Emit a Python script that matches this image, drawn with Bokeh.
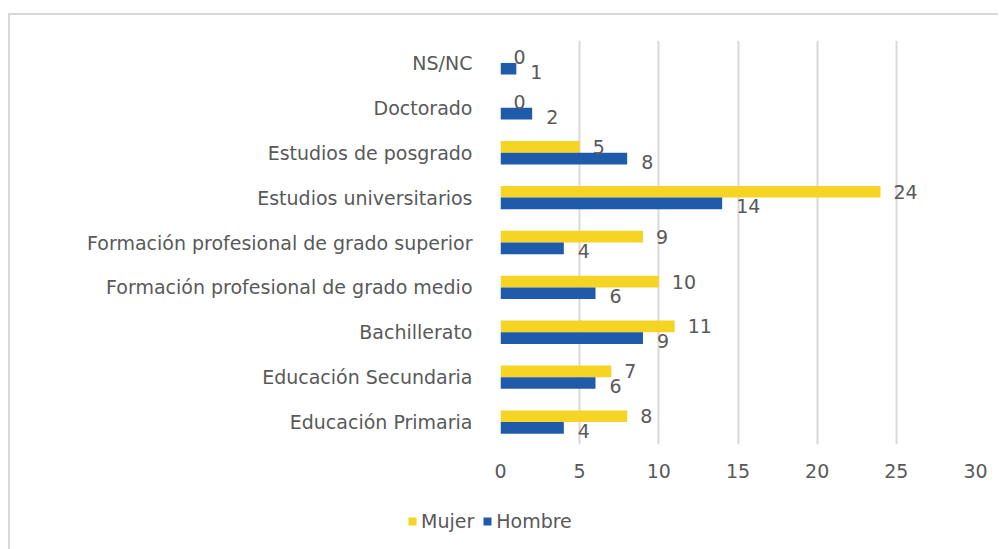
from bokeh.plotting import figure
from bokeh.models import ColumnDataSource, Legend, LegendItem, FactorRange, Range1d, FixedTicker
from bokeh.transform import dodge
from bokeh.embed import file_html
from bokeh.resources import INLINE
from bokeh.core.properties import value

categories = ["NS/NC", "Doctorado", "Estudios de posgrado", "Estudios universitarios",
              "Formación profesional de grado superior", "Formación profesional de grado medio",
              "Bachillerato", "Educación Secundaria", "Educación Primaria"]
mujer = [0, 0, 5, 24, 9, 10, 11, 7, 8]
hombre = [1, 2, 8, 14, 4, 6, 9, 6, 4]
x_ticks = [0, 5, 10, 15, 20, 25, 30]
series_names = ["Mujer", "Hombre"]

FONT = "DejaVu Sans"
TXT = "#595959"
YEL = "#F5D423"
BLU = "#1F5BAA"
BORDER = "2px solid #d9d9d9"

src = ColumnDataSource(dict(cat=categories, mujer=mujer, hombre=hombre,
                            mujer_s=[str(v) for v in mujer], hombre_s=[str(v) for v in hombre]))

p = figure(width=990, height=477, output_backend="svg", toolbar_location=None,
           y_range=FactorRange(factors=list(reversed(categories))),
           x_range=Range1d(0, 30),
           min_border_left=490, min_border_right=25, min_border_top=25, min_border_bottom=48)
p.margin = (13, 0, 0, 8)
p.styles = {"border-top": BORDER, "border-left": BORDER}

bh = 0.26
r_m = p.hbar(y=dodge('cat', 0.13, range=p.y_range), right='mujer', height=bh, left=0,
             source=src, fill_color=YEL, line_color=None)
r_h = p.hbar(y=dodge('cat', -0.13, range=p.y_range), right='hombre', height=bh, left=0,
             source=src, fill_color=BLU, line_color=None)

p.text(x='mujer', y=dodge('cat', 0.13, range=p.y_range), text='mujer_s', source=src,
       x_offset=13, y_offset=0, text_baseline='middle', text_align='left',
       text_font=value(FONT), text_font_size='19px', text_color=TXT)
p.text(x='hombre', y=dodge('cat', -0.13, range=p.y_range), text='hombre_s', source=src,
       x_offset=14, y_offset=3, text_baseline='middle', text_align='left',
       text_font=value(FONT), text_font_size='19px', text_color=TXT)

p.outline_line_color = None
p.ygrid.grid_line_color = None
p.xgrid.grid_line_color = "#d9d9d9"
p.xgrid.grid_line_width = 2
p.xaxis.ticker = FixedTicker(ticks=x_ticks)
for ax in (p.xaxis, p.yaxis):
    ax.axis_line_color = None
    ax.major_tick_line_color = None
    ax.minor_tick_line_color = None
    ax.major_label_text_font = FONT
    ax.major_label_text_font_size = "19px"
    ax.major_label_text_color = TXT
p.yaxis.major_label_standoff = 22
p.xaxis.major_label_standoff = 13

# legend strip below the chart (separate root so its frame spans its whole width);
# its bars use the same data but lie outside the strip's visible ranges
pl = figure(width=990, height=59, output_backend="svg", toolbar_location=None,
            x_range=Range1d(-3, -2), y_range=Range1d(-3, -2),
            min_border_left=0, min_border_right=0, min_border_top=0, min_border_bottom=0)
pl.margin = (0, 0, 0, 8)
pl.styles = {"border-left": BORDER}
pl.axis.visible = False
pl.grid.visible = False
pl.outline_line_color = None
lm = pl.hbar(y='mujer', right='mujer', left=0, height=0.5, source=src,
             fill_color=YEL, line_color=None)
lh = pl.hbar(y='hombre', right='hombre', left=0, height=0.5, source=src,
             fill_color=BLU, line_color=None)
legend = Legend(items=[LegendItem(label=series_names[0], renderers=[lm]),
                       LegendItem(label=series_names[1], renderers=[lh])],
                orientation="horizontal", location=(397, 17),
                glyph_width=10, glyph_height=10, label_text_font=FONT,
                label_text_font_size="19px", label_text_color=TXT,
                border_line_color=None, background_fill_alpha=0,
                padding=0, margin=0, spacing=8, label_standoff=4)
pl.add_layout(legend, "center")

open("out.html", "w").write(file_html([p, pl], INLINE))
